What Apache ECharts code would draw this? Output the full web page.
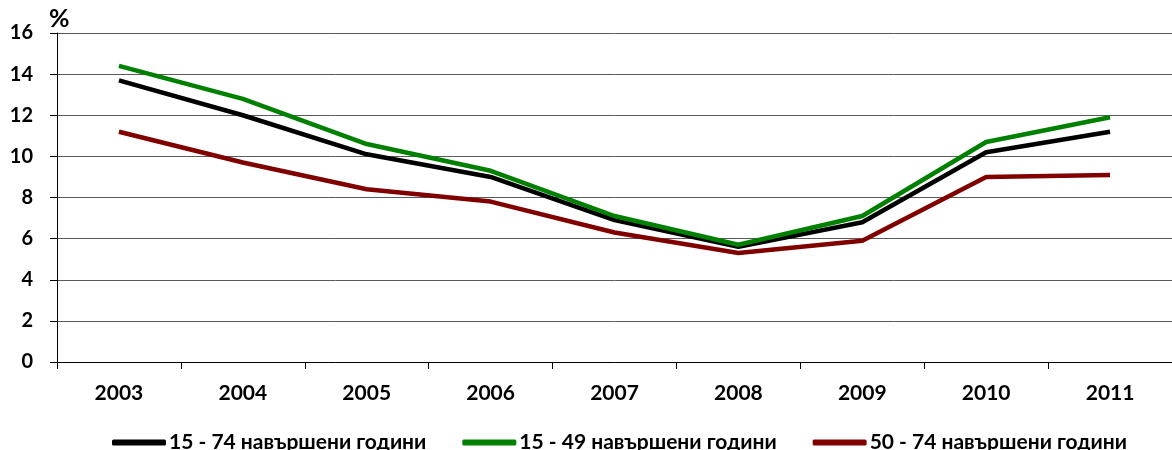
<!DOCTYPE html>
<html>
<head>
<meta charset="utf-8">
<script src="https://cdn.jsdelivr.net/npm/echarts@6/dist/echarts.min.js"></script>
<style>
  html, body { margin: 0; padding: 0; background: #fff; }
  #chart { width: 1172px; height: 450px; }
</style>
</head>
<body>
<div id="chart"></div>
<script>
// години
const years = ['2003', '2004', '2005', '2006', '2007', '2008', '2009', '2010', '2011'];
const seriesNames = ['15 - 74 навършени години', '15 - 49 навършени години', '50 - 74 навършени години'];
const age15to74 = [13.7, 12.0, 10.1, 9.0, 6.9, 5.6, 6.8, 10.2, 11.2];
const age15to49 = [14.4, 12.8, 10.6, 9.3, 7.1, 5.7, 7.1, 10.7, 11.9];
const age50to74 = [11.2, 9.7, 8.4, 7.8, 6.3, 5.3, 5.9, 9.0, 9.1];
const colors = ['#000000', '#008000', '#800000'];

const font = 'Lato, "Open Sans", sans-serif';
const chart = echarts.init(document.getElementById('chart'));

function line(name, data, color) {
  return {
    name: name,
    type: 'line',
    data: data,
    symbol: 'none',
    lineStyle: { color: color, width: 4.5 },
    itemStyle: { color: color },
    animation: false
  };
}

chart.setOption({
  animation: false,
  textStyle: { fontFamily: font },
  grid: { left: 57, right: -6, top: 33, bottom: 88 },
  legend: {
    top: 427,
    left: 107,
    itemWidth: 54,
    itemHeight: 6,
    itemGap: 36,
    icon: 'roundRect',
    textStyle: { fontSize: 21, fontWeight: 'bold', color: '#000', fontFamily: font, padding: [0, 0, 0, -2] },
    data: seriesNames
  },
  xAxis: {
    type: 'category',
    data: years,
    boundaryGap: true,
    axisLine: { lineStyle: { color: '#000', width: 1 } },
    axisTick: { show: true, length: 7, lineStyle: { color: '#000' } },
    axisLabel: { margin: 21, fontSize: 21, fontWeight: 'bold', color: '#000', fontFamily: font }
  },
  yAxis: {
    type: 'value',
    min: 0,
    max: 16,
    interval: 2,
    name: '%',
    nameLocation: 'end',
    nameGap: 2,
    nameTextStyle: { fontSize: 25, fontWeight: 'bold', color: '#000', fontFamily: font, align: 'left', padding: [0, 0, 0, -8] },
    axisLine: { show: true, lineStyle: { color: '#000', width: 1 } },
    axisTick: { show: true, length: 7, lineStyle: { color: '#000' } },
    axisLabel: { margin: 24, fontSize: 20, fontWeight: 'bold', color: '#000', fontFamily: font },
    splitLine: { show: true, lineStyle: { color: '#5a5a5a', width: 1 } }
  },
  series: [
    line(seriesNames[0], age15to74, colors[0]),
    line(seriesNames[1], age15to49, colors[1]),
    line(seriesNames[2], age50to74, colors[2])
  ]
});
</script>
</body>
</html>
